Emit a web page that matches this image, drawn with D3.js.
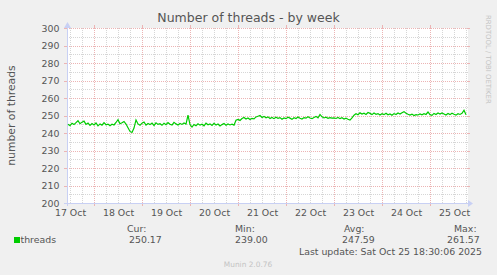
<!DOCTYPE html>
<html>
<head>
<meta charset="utf-8">
<script src="https://cdn.jsdelivr.net/npm/d3@7"></script>
<style>
  body { margin: 0; background: #f0f0f0; }
  svg { display: block; font-family: "DejaVu Sans", sans-serif; }
</style>
</head>
<body>
<div id="container"></div>
<script>
// hourly averages, 17 Oct 11:00 .. 25 Oct 18:00
const startTime = new Date(2025, 9, 17, 11, 0);
const threads17 = [245.0, 244.2, 245.6, 244.8, 245.9, 247.0, 245.3, 246.2, 246.8, 244.9, 245.7, 244.3, 245.4];
const threads18 = [244.6, 245.8, 244.1, 245.2, 244.5, 245.9, 244.7, 245.1, 244.2, 245.0, 244.6, 246.0,
                   247.6, 245.3, 245.9, 246.6, 245.1, 243.0, 240.9, 240.3, 242.8, 247.5, 245.2, 244.4];
const threads19 = [245.6, 246.3, 244.5, 245.4, 244.8, 245.7, 244.3, 245.8, 244.9, 245.3, 244.4, 245.6,
                   244.7, 245.9, 245.0, 244.5, 246.1, 245.2, 244.6, 245.4, 244.9, 245.7, 245.1, 250.2];
const threads20 = [244.8, 243.4, 244.9, 244.2, 245.3, 244.5, 245.0, 244.1, 245.6, 244.7, 245.2, 244.3,
                   245.5, 244.6, 245.1, 244.0, 244.8, 245.4, 244.4, 245.2, 244.6, 245.0, 244.5, 247.3];
const threads21 = [247.8, 247.2, 248.3, 248.9, 248.0, 248.6, 247.7, 248.4, 248.1, 249.2, 249.6, 250.0,
                   248.9, 249.5, 248.7, 249.2, 248.3, 248.9, 248.2, 249.0, 248.4, 248.8, 247.9, 248.6];
const threads22 = [248.2, 249.0, 248.5, 247.8, 248.7, 248.3, 249.1, 248.4, 248.0, 248.8, 248.5, 249.3,
                   248.6, 248.2, 248.9, 249.5, 248.7, 250.6, 249.2, 248.6, 249.0, 248.4, 248.8, 248.5];
const threads23 = [248.6, 248.3, 248.9, 248.2, 248.7, 248.0, 248.5, 247.9, 247.4, 248.6, 250.2, 251.0,
                   250.4, 251.5, 250.8, 251.3, 250.6, 251.7, 251.2, 250.5, 251.4, 250.7, 251.1, 250.3];
const threads24 = [251.0, 250.5, 251.3, 250.4, 250.9, 250.2, 251.1, 250.6, 251.4, 250.8, 251.6, 252.2,
                   251.3, 250.7, 250.2, 250.8, 250.0, 250.5, 250.3, 250.9, 250.4, 251.0, 250.6, 252.0];
const threads25 = [250.5, 250.1, 251.2, 250.6, 251.4, 250.8, 251.5, 250.9, 250.3, 251.1, 250.5, 251.3,
                   250.7, 250.2, 251.0, 250.6, 251.2, 253.0, 250.4];

const dayLabels = ['17 Oct', '18 Oct', '19 Oct', '20 Oct', '21 Oct', '22 Oct', '23 Oct', '24 Oct', '25 Oct'];
const yTicks = [200, 210, 220, 230, 240, 250, 260, 270, 280, 290, 300];
const legendHeads = ['Cur:', 'Min:', 'Avg:', 'Max:'];
const legendVals = ['250.17', '239.00', '247.59', '261.57'];

const values = [].concat(threads17, threads18, threads19, threads20, threads21,
    threads22, threads23, threads24, threads25);
const data = values.map((v, i) => ({ t: d3.timeHour.offset(startTime, i), v: v }));

const W = 497, H = 275;
const plot = { left: 67, right: 467, top: 28, bottom: 203 };
const textColor = '#555';
const axisColor = '#c8d0f4';
const minorColor = '#d6d6d6';
const majorColor = '#ecb4b4';

const svg = d3.select('#container').append('svg')
    .attr('width', W).attr('height', H);

svg.append('rect').attr('width', W).attr('height', H).attr('fill', '#f0f0f0');
svg.append('rect')
    .attr('x', plot.left).attr('y', plot.top)
    .attr('width', plot.right - plot.left + 1).attr('height', plot.bottom - plot.top)
    .attr('fill', '#fff');

const x = d3.scaleTime()
    .domain([new Date(2025, 9, 17, 10, 30), new Date(2025, 9, 25, 18, 30)])
    .range([plot.left, plot.right]);
const y = d3.scaleLinear().domain([200, 300]).range([plot.bottom, plot.top]);

const grid = svg.append('g').attr('shape-rendering', 'crispEdges');

// minor grid
d3.range(205, 300, 10).forEach(v => {
    grid.append('line')
        .attr('x1', plot.left).attr('x2', plot.right + 1)
        .attr('y1', Math.round(y(v)) + 0.5).attr('y2', Math.round(y(v)) + 0.5)
        .attr('stroke', minorColor).attr('stroke-dasharray', '1,1');
});
const sixHours = d3.timeHour.every(6).range(x.domain()[0], x.domain()[1]).filter(d => d.getHours() !== 0);
sixHours.forEach(d => {
    grid.append('line')
        .attr('x1', Math.round(x(d)) + 0.5).attr('x2', Math.round(x(d)) + 0.5)
        .attr('y1', plot.top).attr('y2', plot.bottom)
        .attr('stroke', minorColor).attr('stroke-dasharray', '1,1');
});

// major grid
yTicks.forEach(v => {
    const yy = Math.round(y(v)) + 0.5;
    grid.append('line')
        .attr('x1', plot.left).attr('x2', plot.right + 1)
        .attr('y1', yy).attr('y2', yy)
        .attr('stroke', majorColor).attr('stroke-dasharray', '1,1');
    grid.append('line').attr('x1', plot.left - 3).attr('x2', plot.left).attr('y1', yy).attr('y2', yy).attr('stroke', majorColor);
    grid.append('line').attr('x1', plot.right + 1).attr('x2', plot.right + 3).attr('y1', yy).attr('y2', yy).attr('stroke', majorColor);
});
const midnights = d3.timeDay.range(x.domain()[0], x.domain()[1]).filter(d => x(d) > plot.left);
midnights.forEach(d => {
    const xx = Math.round(x(d)) + 0.5;
    grid.append('line')
        .attr('x1', xx).attr('x2', xx)
        .attr('y1', plot.top).attr('y2', plot.bottom)
        .attr('stroke', majorColor).attr('stroke-dasharray', '1,1');
    grid.append('line').attr('x1', xx).attr('x2', xx).attr('y1', plot.bottom).attr('y2', plot.bottom + 3).attr('stroke', majorColor);
    grid.append('line').attr('x1', xx).attr('x2', xx).attr('y1', plot.top - 3).attr('y2', plot.top).attr('stroke', majorColor);
});

// axes lines and arrows
svg.append('line')
    .attr('x1', plot.left - 3).attr('x2', plot.right + 2)
    .attr('y1', plot.bottom + 0.5).attr('y2', plot.bottom + 0.5)
    .attr('stroke', axisColor).attr('shape-rendering', 'crispEdges');
svg.append('path')
    .attr('d', `M${plot.right + 1},${plot.bottom - 3} L${plot.right + 6},${plot.bottom + 0.5} L${plot.right + 1},${plot.bottom + 4} Z`)
    .attr('fill', axisColor);
svg.append('line')
    .attr('x1', plot.left + 0.5).attr('x2', plot.left + 0.5)
    .attr('y1', plot.bottom + 3).attr('y2', plot.top - 2)
    .attr('stroke', axisColor).attr('shape-rendering', 'crispEdges');
svg.append('path')
    .attr('d', `M${plot.left - 3},${plot.top} L${plot.left + 0.5},${plot.top - 6} L${plot.left + 4},${plot.top} Z`)
    .attr('fill', axisColor);

// data line
const line = d3.line().x(d => x(d.t)).y(d => y(d.v));
svg.append('path')
    .datum(data)
    .attr('d', line)
    .attr('fill', 'none')
    .attr('stroke', '#00cc00')
    .attr('stroke-width', 1.2);

// y tick labels
const yAxis = d3.axisLeft(y).tickValues(yTicks).tickSize(0).tickPadding(0);
svg.append('g')
    .attr('transform', `translate(${plot.left - 7.5},0)`)
    .call(yAxis)
    .call(g => g.select('.domain').remove())
    .call(g => g.selectAll('text').attr('fill', textColor).attr('font-size', '9.4px')
        .attr('font-family', 'DejaVu Sans').attr('dy', '0.35em'));

// x tick labels at noon
const noonDates = dayLabels.map((s, i) => new Date(2025, 9, 17 + i, 12, 0));
const xAxis = d3.axisBottom(x).tickValues(noonDates).tickSize(0).tickPadding(0)
    .tickFormat((d, i) => dayLabels[i]);
svg.append('g')
    .attr('transform', `translate(0,${plot.bottom + 13})`)
    .call(xAxis)
    .call(g => g.select('.domain').remove())
    .call(g => g.selectAll('text').attr('fill', textColor).attr('font-size', '9.4px')
        .attr('font-family', 'DejaVu Sans').attr('dy', 0));

// title
svg.append('text')
    .attr('x', 248.5).attr('y', 22)
    .attr('text-anchor', 'middle')
    .attr('font-size', '12.5px')
    .attr('fill', textColor)
    .text('Number of threads - by week');

// y label
svg.append('text')
    .attr('transform', `translate(15,${(plot.top + plot.bottom) / 2}) rotate(-90)`)
    .attr('text-anchor', 'middle')
    .attr('font-size', '10.8px')
    .attr('fill', textColor)
    .text('number of threads');

// watermark
svg.append('text')
    .attr('transform', `translate(485.5,15) rotate(90)`)
    .attr('font-size', '6.9px')
    .attr('fill', '#c4c4c4')
    .text('RRDTOOL / TOBI OETIKER');

// legend
svg.append('rect')
    .attr('x', 14).attr('y', 237).attr('width', 6).attr('height', 6)
    .attr('fill', '#00cc00');
svg.append('text')
    .attr('x', 20.5).attr('y', 243)
    .attr('font-size', '9.4px').attr('fill', textColor)
    .text('threads');

const headX = [127, 235, 344, 454];
const valX = [129, 235, 342, 447];
legendHeads.forEach((h, i) => {
    svg.append('text')
        .attr('x', headX[i]).attr('y', 231.5)
        .attr('font-size', '9.4px').attr('fill', textColor)
        .text(h);
    svg.append('text')
        .attr('x', valX[i]).attr('y', 243)
        .attr('font-size', '9.4px').attr('fill', textColor)
        .text(legendVals[i]);
});

svg.append('text')
    .attr('x', 482).attr('y', 255)
    .attr('text-anchor', 'end')
    .attr('font-size', '9.4px').attr('fill', textColor)
    .text('Last update: Sat Oct 25 18:30:06 2025');

svg.append('text')
    .attr('x', 248).attr('y', 266.5)
    .attr('text-anchor', 'middle')
    .attr('font-size', '7.4px').attr('fill', '#c4c4c4')
    .text('Munin 2.0.76');
</script>
</body>
</html>
